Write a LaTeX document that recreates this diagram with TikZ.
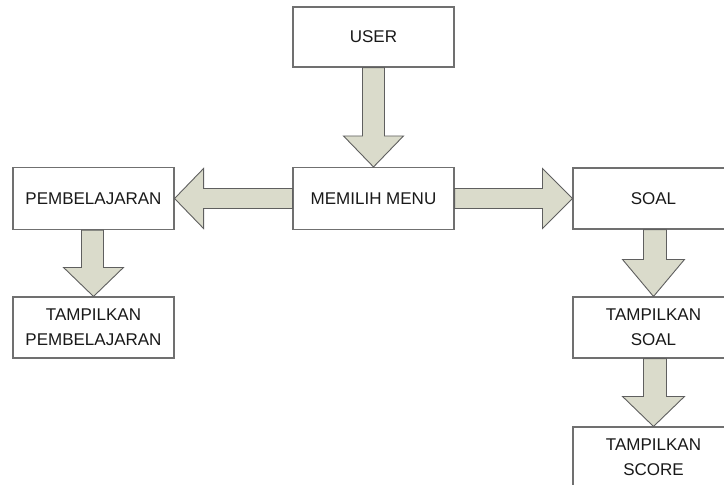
\documentclass[tikz,border=0pt]{standalone}
\usepackage{fontspec}
\setmainfont{Liberation Sans}
\usetikzlibrary{calc}
\definecolor{boxline}{RGB}{112,112,112}
\definecolor{arrowfill}{RGB}{218,219,203}
\definecolor{arrowline}{RGB}{95,95,95}
\definecolor{txt}{RGB}{25,25,25}
\tikzset{
  stepbox/.style={draw=boxline, line width=1.1pt, fill=white, minimum width=161pt,
    minimum height=61pt, inner sep=0pt, align=center, text=txt,
    font=\fontsize{17}{25}\selectfont},
  blockarrow/.style={draw=arrowline, line width=0.9pt, fill=arrowfill, line join=miter}
}
\begin{document}
\begin{tikzpicture}[x=1pt,y=-1pt]
  \useasboundingbox (0,0) rectangle (724,485);
  \begin{scope}
    \clip (0,0) rectangle (724,485);

    % boxes
    \node[stepbox, minimum height=60pt] (user) at (373.5,37) {USER};
    \node[stepbox, minimum height=62pt] (menu) at (373.5,198.5) {MEMILIH MENU};
    \node[stepbox, minimum height=62pt] (pemb) at (93.5,198.5) {PEMBELAJARAN};
    \node[stepbox] (tpemb) at (93.5,327.5) {TAMPILKAN\\PEMBELAJARAN};
    \node[stepbox, minimum height=61pt] (soal) at (653.5,198.5) {SOAL};
    \node[stepbox] (tsoal) at (653.5,327.5) {TAMPILKAN\\SOAL};
    \node[stepbox] (score) at (653.5,457.5) {TAMPILKAN\\SCORE};

    % USER -> MEMILIH MENU
    \draw[blockarrow] ($(user.south)+(-11,0)$) -- ($(menu.north)+(-11,-31)$)
      -- ($(menu.north)+(-30,-31)$) -- (menu.north) -- ($(menu.north)+(30,-31)$)
      -- ($(menu.north)+(11,-31)$) -- ($(user.south)+(11,0)$) -- cycle;

    % MEMILIH MENU -> PEMBELAJARAN
    \draw[blockarrow] ($(menu.west)+(0,-10)$) -- ($(pemb.east)+(29,-10)$)
      -- ($(pemb.east)+(29,-30)$) -- (pemb.east) -- ($(pemb.east)+(29,30)$)
      -- ($(pemb.east)+(29,10)$) -- ($(menu.west)+(0,10)$) -- cycle;

    % MEMILIH MENU -> SOAL
    \draw[blockarrow] ($(menu.east)+(0,-10)$) -- ($(soal.west)+(-30,-10)$)
      -- ($(soal.west)+(-30,-30)$) -- (soal.west) -- ($(soal.west)+(-30,30)$)
      -- ($(soal.west)+(-30,10)$) -- ($(menu.east)+(0,10)$) -- cycle;

    % PEMBELAJARAN -> TAMPILKAN PEMBELAJARAN
    \draw[blockarrow] ($(pemb.south)+(-12,0)$) -- ($(tpemb.north)+(-12,-29)$)
      -- ($(tpemb.north)+(-30,-29)$) -- (tpemb.north) -- ($(tpemb.north)+(30,-29)$)
      -- ($(tpemb.north)+(10,-29)$) -- ($(pemb.south)+(10,0)$) -- cycle;

    % SOAL -> TAMPILKAN SOAL
    \draw[blockarrow] ($(soal.south)+(-10,0)$) -- ($(tsoal.north)+(-10,-37)$)
      -- ($(tsoal.north)+(-31,-37)$) -- (tsoal.north) -- ($(tsoal.north)+(31,-37)$)
      -- ($(tsoal.north)+(13,-37)$) -- ($(soal.south)+(13,0)$) -- cycle;

    % TAMPILKAN SOAL -> TAMPILKAN SCORE
    \draw[blockarrow] ($(tsoal.south)+(-10,0)$) -- ($(score.north)+(-10,-30)$)
      -- ($(score.north)+(-31,-30)$) -- (score.north) -- ($(score.north)+(31,-30)$)
      -- ($(score.north)+(13,-30)$) -- ($(tsoal.south)+(13,0)$) -- cycle;
  \end{scope}
\end{tikzpicture}
\end{document}
